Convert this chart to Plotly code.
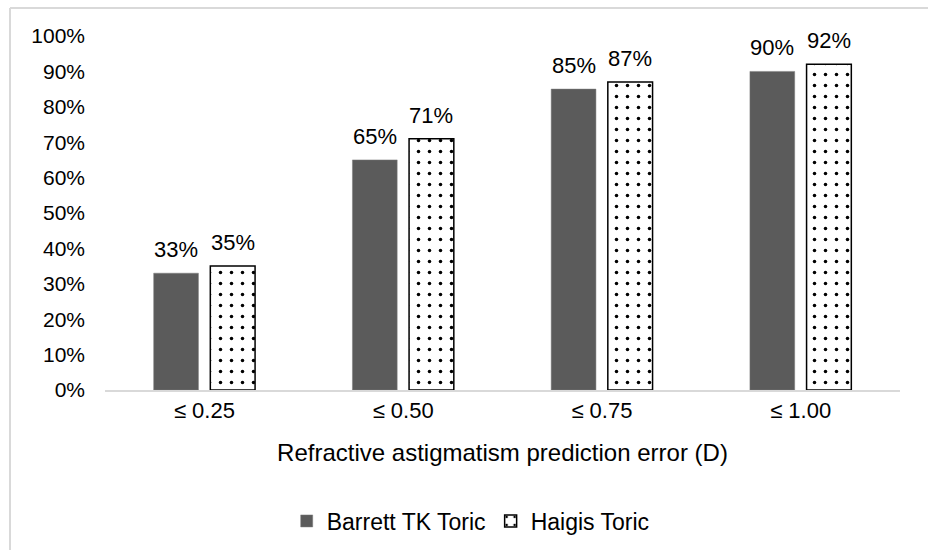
import plotly.graph_objects as go

categories = ["≤ 0.25", "≤ 0.50", "≤ 0.75", "≤ 1.00"]
barrett = [0.33, 0.65, 0.85, 0.90]
haigis = [0.35, 0.71, 0.87, 0.92]
series_names = ["Barrett TK Toric", "Haigis Toric"]
x_title = "Refractive astigmatism prediction error (D)"

FONT = "Liberation Sans, Arial, sans-serif"
BARGAP = 0.43
BARGROUPGAP = 0.21
slot = (1 - BARGAP) / 2  # width of one bar slot in category units

fig = go.Figure()
fig.add_trace(go.Bar(
    x=list(range(len(categories))), y=barrett, name=series_names[0],
    marker=dict(color="#5b5b5b", line=dict(color="#7a7a7a", width=0.5)),
    hoverinfo="skip",
))
fig.add_trace(go.Bar(
    x=list(range(len(categories))), y=haigis, name=series_names[1],
    marker=dict(color="#ffffff", line=dict(color="#000000", width=1.5),
                pattern=dict(shape=".", fgcolor="#000000", bgcolor="#ffffff",
                             size=11, solidity=0.08, fillmode="replace")),
    hoverinfo="skip",
))

annotations = []
for i, (vb, vh) in enumerate(zip(barrett, haigis)):
    for v, off in ((vb, -slot / 2), (vh, slot / 2)):
        annotations.append(dict(
            x=i + off, y=v, xref="x", yref="y", text=f"{v:.0%}",
            showarrow=False, yanchor="bottom", yshift=9,
            font=dict(size=22, color="#000000", family=FONT)))

fig.update_layout(
    width=928, height=550,
    margin=dict(l=105, r=28, t=36, b=160, autoexpand=False),
    paper_bgcolor="#ffffff", plot_bgcolor="#ffffff",
    font=dict(family=FONT, size=21, color="#000000"),
    barmode="group", bargap=BARGAP, bargroupgap=BARGROUPGAP,
    showlegend=True,
    legend=dict(orientation="h", x=0.46, xanchor="center", y=-0.37, yanchor="middle",
                font=dict(size=23, family=FONT), itemwidth=30, tracegroupgap=0),
    xaxis=dict(showline=True, linecolor="#d9d9d9", linewidth=1.5, ticks="",
               showgrid=False, tickfont=dict(size=22), automargin=False,
               range=[-0.5, len(categories) - 0.5],
               tickmode="array", tickvals=list(range(len(categories))),
               ticktext=categories,
               title=dict(text=x_title, font=dict(size=24), standoff=22)),
    yaxis=dict(range=[0, 1], dtick=0.1, tickformat=".0%", showgrid=False,
               zeroline=False, showline=False, ticks="", tickfont=dict(size=21),
               ticklabelstandoff=19, automargin=False),
    annotations=annotations,
    shapes=[dict(type="line", xref="paper", yref="paper",
                 x0=(10 - 105) / 795, x1=(10 - 105) / 795,
                 y0=(390 - 8) / 354, y1=(390 - 560) / 354,
                 line=dict(color="#d9d9d9", width=2)),
            dict(type="line", xref="paper", yref="paper",
                 x0=(10 - 105) / 795, x1=(940 - 105) / 795,
                 y0=(390 - 8) / 354, y1=(390 - 8) / 354,
                 line=dict(color="#d9d9d9", width=2))],
)

fig.write_html("out.html", config={"displayModeBar": False},
               post_script="document.body.style.margin='0';")
